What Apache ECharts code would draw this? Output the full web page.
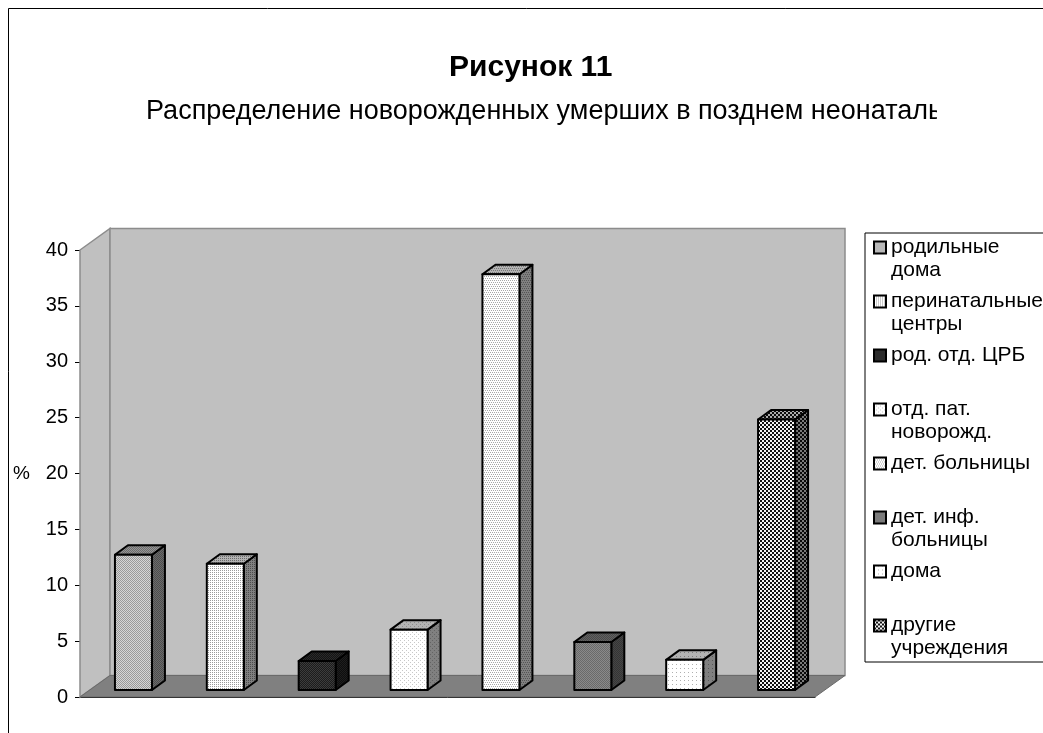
<!DOCTYPE html>
<html>
<head>
<meta charset="utf-8">
<script src="https://cdn.jsdelivr.net/npm/echarts@6/dist/echarts.min.js"></script>
<style>
  html, body { margin: 0; padding: 0; background: #fff; }
  #chart { width: 1043px; height: 733px; }
</style>
</head>
<body>
<div id="chart"></div>
<script>
// ---- data ----
const categories = [
  'родильные\nдома',
  'перинатальные\nцентры',
  'род. отд. ЦРБ',
  'отд. пат.\nноворожд.',
  'дет. больницы',
  'дет. инф.\nбольницы',
  'дома',
  'другие\nучреждения'
];
const values = [12.1, 11.3, 2.6, 5.4, 37.2, 4.3, 2.7, 24.2];
const yMin = 0, yMax = 40, yStep = 5;
const titleText = 'Рисунок 11';
const subtitleText = 'Распределение новорожденных умерших в позднем неонатальном периоде';
const yAxisName = '%';

// ---- look ----
const FONT = '"Liberation Sans", Arial, sans-serif';
// hatch tiles: tile size, background, dot colour, dot rectangles [x, y, w, h]
const FILLS = [
  { tile: 2, bg: '#d6d6d6', fg: '#9a9a9a', dots: [[0, 0, 1, 1], [1, 1, 1, 1]] },
  { tile: 2, bg: '#ffffff', fg: '#9a9a9a', dots: [[0, 0, 1, 1]] },
  { tile: 2, bg: '#1c1c1c', fg: '#3c3c3c', dots: [[0, 0, 1, 1], [1, 1, 1, 1]] },
  { tile: 4, bg: '#ffffff', fg: '#c8c8c8', dots: [[0, 0, 1, 1], [2, 2, 1, 1]] },
  { tile: 4, bg: '#ffffff', fg: '#a8a8a8', dots: [[0, 0, 1, 1], [2, 0, 1, 1], [1, 2, 1, 1], [3, 2, 1, 1]] },
  { tile: 2, bg: '#8a8a8a', fg: '#6a6a6a', dots: [[0, 0, 1, 1], [1, 1, 1, 1]] },
  { tile: 4, bg: '#ffffff', fg: '#b0b0b0', dots: [[0, 0, 1, 1]] },
  { tile: 4, bg: '#f4f4f4', fg: '#111111', dots: [[0, 0, 2, 2], [2, 2, 2, 2]] }
];
const SIDE_SHADE = 0.5, TOP_SHADE = 0.7;

// 3-D box geometry (pixels)
const BAR_W = 37, BAR_SHIFT_X = 7.5, BAR_LIFT = 7;
const BAR_DEPTH_X = 13, BAR_DEPTH_Y = -9.5;
const WALL_DX = 30, WALL_DY = -21.5;

function shade(hex, k) {
  const n = parseInt(hex.slice(1), 16);
  const r = Math.round(((n >> 16) & 255) * k);
  const g = Math.round(((n >> 8) & 255) * k);
  const b = Math.round((n & 255) * k);
  return 'rgb(' + r + ',' + g + ',' + b + ')';
}

function makeFill(spec, k) {
  const c = document.createElement('canvas');
  c.width = c.height = spec.tile;
  const g = c.getContext('2d');
  g.fillStyle = shade(spec.bg, k);
  g.fillRect(0, 0, spec.tile, spec.tile);
  g.fillStyle = shade(spec.fg, k);
  spec.dots.forEach(function (d) { g.fillRect(d[0], d[1], d[2], d[3]); });
  return { image: c, repeat: 'repeat' };
}

const fills = FILLS.map(function (s) {
  return { front: makeFill(s, 1), side: makeFill(s, SIDE_SHADE), top: makeFill(s, TOP_SHADE) };
});

// back wall, side wall and floor of the plot box
function renderWalls(params, api) {
  const cs = params.coordSys;
  const L = cs.x, R = cs.x + cs.width;
  const T = api.coord([0, yMax])[1], B = api.coord([0, yMin])[1];
  return {
    type: 'group',
    children: [
      { type: 'polygon', shape: { points: [[L, T], [L + WALL_DX, T + WALL_DY], [L + WALL_DX, B + WALL_DY], [L, B]] },
        style: { fill: '#c0c0c0', stroke: '#8c8c8c', lineWidth: 1.5 } },
      { type: 'rect', shape: { x: L + WALL_DX, y: T + WALL_DY, width: R - L, height: B - T } ,
        style: { fill: '#c0c0c0', stroke: '#8c8c8c', lineWidth: 1.5 } },
      { type: 'polygon', shape: { points: [[L, B], [R, B], [R + WALL_DX, B + WALL_DY], [L + WALL_DX, B + WALL_DY]] },
        style: { fill: '#808080', stroke: '#6a6a6a', lineWidth: 1 } }
    ]
  };
}

function makeBarRenderer(k) {
  return function (params, api) {
    const idx = api.value(0), v = api.value(1);
    const base = api.coord([idx, 0]);
    const top = api.coord([idx, v]);
    const x0 = base[0] - BAR_W / 2 + BAR_SHIFT_X, x1 = x0 + BAR_W;
    const y0 = base[1] - BAR_LIFT, y1 = top[1] - BAR_LIFT;
    const line = { stroke: '#000', lineWidth: 2, lineJoin: 'round' };
    return {
      type: 'group',
      children: [
        { type: 'polygon', shape: { points: [[x1, y1], [x1 + BAR_DEPTH_X, y1 + BAR_DEPTH_Y], [x1 + BAR_DEPTH_X, y0 + BAR_DEPTH_Y], [x1, y0]] },
          style: Object.assign({ fill: fills[k].side }, line) },
        { type: 'polygon', shape: { points: [[x0, y1], [x0 + BAR_DEPTH_X, y1 + BAR_DEPTH_Y], [x1 + BAR_DEPTH_X, y1 + BAR_DEPTH_Y], [x1, y1]] },
          style: Object.assign({ fill: fills[k].top }, line) },
        { type: 'rect', shape: { x: x0, y: y1, width: BAR_W, height: y0 - y1 },
          style: Object.assign({ fill: fills[k].front }, line) }
      ]
    };
  };
}

const barSeries = categories.map(function (name, i) {
  return {
    type: 'custom',
    name: name,
    z: 3,
    itemStyle: { color: fills[i].front },
    encode: { x: 0, y: 1 },
    data: [[i, values[i]]],
    renderItem: makeBarRenderer(i)
  };
});

const chart = echarts.init(document.getElementById('chart'), null, { renderer: 'canvas' });
chart.setOption({
  backgroundColor: '#fff',
  animation: false,
  textStyle: { fontFamily: FONT },
  title: [
    { text: titleText, left: 449, top: 53, padding: 0,
      textStyle: { fontFamily: FONT, fontSize: 30, fontWeight: 'bold', color: '#000' } },
    { text: subtitleText, left: 146, top: 98, padding: 0,
      textStyle: { fontFamily: FONT, fontSize: 27, fontWeight: 'normal', color: '#000' } }
  ],
  grid: { left: 80, right: 228, top: 250, bottom: 36, containLabel: false, outerBoundsMode: 'none' },
  xAxis: {
    type: 'category',
    data: categories,
    axisLine: { show: true, lineStyle: { color: '#000', width: 1 } },
    axisTick: { show: false },
    axisLabel: { show: false },
    splitLine: { show: false }
  },
  yAxis: {
    type: 'value',
    min: yMin, max: yMax, interval: yStep,
    name: yAxisName,
    nameLocation: 'middle', nameRotate: 0, nameGap: 50,
    nameTextStyle: { fontFamily: FONT, fontSize: 19, color: '#000' },
    axisLine: { show: true, lineStyle: { color: '#000', width: 1 } },
    axisTick: { show: true, length: 5, lineStyle: { color: '#000' } },
    axisLabel: { fontFamily: FONT, fontSize: 20, color: '#000', margin: 12 },
    splitLine: { show: false }
  },
  legend: {
    orient: 'vertical',
    left: 865, top: 233,
    padding: [3, 90, 2, 8],
    itemGap: 8,
    itemWidth: 12, itemHeight: 35,
    icon: 'path://M0,0L12,0L12,12L0,12Z M0,35L0,35',
    backgroundColor: '#fff',
    borderColor: '#000', borderWidth: 1,
    itemStyle: { borderColor: '#000', borderWidth: 2 },
    textStyle: { fontFamily: FONT, fontSize: 21, lineHeight: 23, color: '#000' },
    formatter: function (name) { return name.indexOf('\n') < 0 ? name + '\n ' : name; },
    selectedMode: false,
    data: categories
  },
  graphic: [
    // the subtitle box ends here; text running past it is hidden
    { type: 'rect', silent: true, z: 50,
      shape: { x: 937, y: 88, width: 120, height: 46 },
      style: { fill: '#fff' } },
    { type: 'rect', silent: true, z: 100,
      shape: { x: 8.5, y: 8.5, width: 1100, height: 800 },
      style: { fill: 'none', stroke: '#000', lineWidth: 1 } }
  ],
  series: [
    { type: 'custom', name: 'стенки', silent: true, z: 1,
      encode: { x: 0, y: 1 }, data: [[0, 0]], renderItem: renderWalls }
  ].concat(barSeries)
});
</script>
</body>
</html>
